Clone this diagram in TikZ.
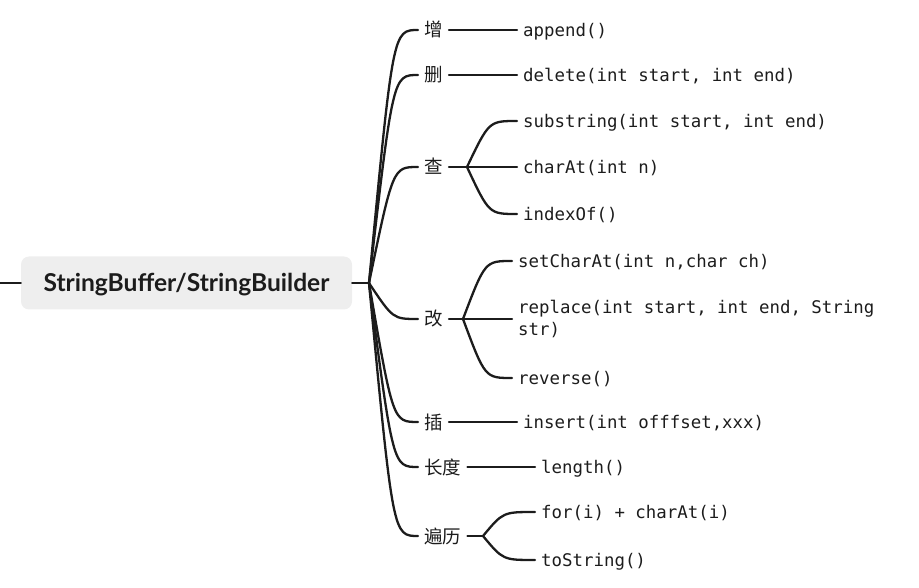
\documentclass[tikz,border=0pt]{standalone}
\usepackage{fontspec}
\setmainfont{Noto Sans}
\setmonofont{DejaVu Sans Mono}
\newfontfamily\cjk{Noto Sans CJK SC}
\newfontfamily\rootfont{Lato}[BoldFont={Lato Bold}]
\usetikzlibrary{calc}

\definecolor{inkgray}{HTML}{1C1C1C}
\definecolor{rootfill}{HTML}{EEEEEE}

\tikzset{
  wire/.style={line width=2.3pt, inkgray, line cap=round},
  bough/.style={to path={.. controls ($(\tikztostart |- \tikztotarget)+(#1,0)$) .. (\tikztotarget)}},
  root/.style={fill=rootfill, rounded corners=8pt, minimum width=331pt, minimum height=53pt,
    text height=17pt, text depth=0pt, inner sep=0pt, text=inkgray, font=\rootfont\bfseries\fontsize{24.6}{28}\selectfont},
  topic/.style={anchor=west, inner xsep=6pt, inner ysep=0pt, text height=15pt, text depth=1pt,
    text=inkgray, font=\fontsize{18.5}{22}\cjk},
  leaf/.style={anchor=west, inner xsep=6pt, inner ysep=0pt, text height=14pt, text depth=1pt,
    text=inkgray, font=\fontsize{17.4}{22}\ttfamily},
  leafwrap/.style={anchor=west, inner xsep=6pt, inner ysep=0pt, align=left,
    text=inkgray, font=\fontsize{17.4}{22}\ttfamily},
}

\begin{document}
\begin{tikzpicture}[x=1pt, y=-1pt]
\useasboundingbox (0,0) rectangle (919,588);

% root
\node[root] (sb) at (186.5,283) {StringBuffer/StringBuilder};
\coordinate (stub) at (0,283);
\coordinate (hub) at (369,283);
\draw[wire] (stub) -- (sb.west);
\draw[wire] (sb.east) -- (hub);

% first level
\node[topic] (zeng) at (418,30) {增};
\node[topic] (shan) at (418,75) {删};
\node[topic] (cha) at (418,167) {查};
\node[topic] (gai) at (418,319) {改};
\node[topic] (cha2) at (418,422) {插};
\node[topic] (len) at (418,467) {长度};
\node[topic] (bianli) at (418,536) {遍历};
\foreach \t in {zeng,shan,cha,gai,cha2,len,bianli}
  \draw[wire] (hub) to[bough=24] (\t.west);

% single leaves
\node[leaf] (append) at (517,30) {append()};
\node[leaf] (delete) at (517,75) {delete(int start, int end)};
\node[leaf] (insert) at (517,422) {insert(int offfset,xxx)};
\node[leaf] (length) at (535,467) {length()};
\draw[wire] (zeng) -- (append);
\draw[wire] (shan) -- (delete);
\draw[wire] (cha2) -- (insert);
\draw[wire] (len) -- (length);

% 查
\coordinate (cha-j) at (467,167);
\node[leaf] (substr) at (517,121) {substring(int start, int end)};
\node[leaf] (charat) at (517,167) {charAt(int n)};
\node[leaf] (indexof) at (517,214) {indexOf()};
\draw[wire] (cha) -- (cha-j);
\foreach \t in {substr,charat,indexof}
  \draw[wire] (cha-j) to[bough=22] (\t.west);

% 改
\coordinate (gai-j) at (463,319);
\node[leaf] (setchar) at (512,261) {setCharAt(int n,char ch)};
\node[leafwrap] (replace) at (512,319) {replace(int start, int end, String\\str)};
\node[leaf] (reverse) at (512,378) {reverse()};
\draw[wire] (gai) -- (gai-j);
\foreach \t in {setchar,replace,reverse}
  \draw[wire] (gai-j) to[bough=22] (\t.west);

% 遍历
\coordinate (bianli-j) at (483,536);
\node[leaf] (forloop) at (535,512) {for(i) + charAt(i)};
\node[leaf] (tostr) at (535,560) {toString()};
\draw[wire] (bianli) -- (bianli-j);
\foreach \t in {forloop,tostr}
  \draw[wire] (bianli-j) to[bough=20] (\t.west);

\end{tikzpicture}
\end{document}
